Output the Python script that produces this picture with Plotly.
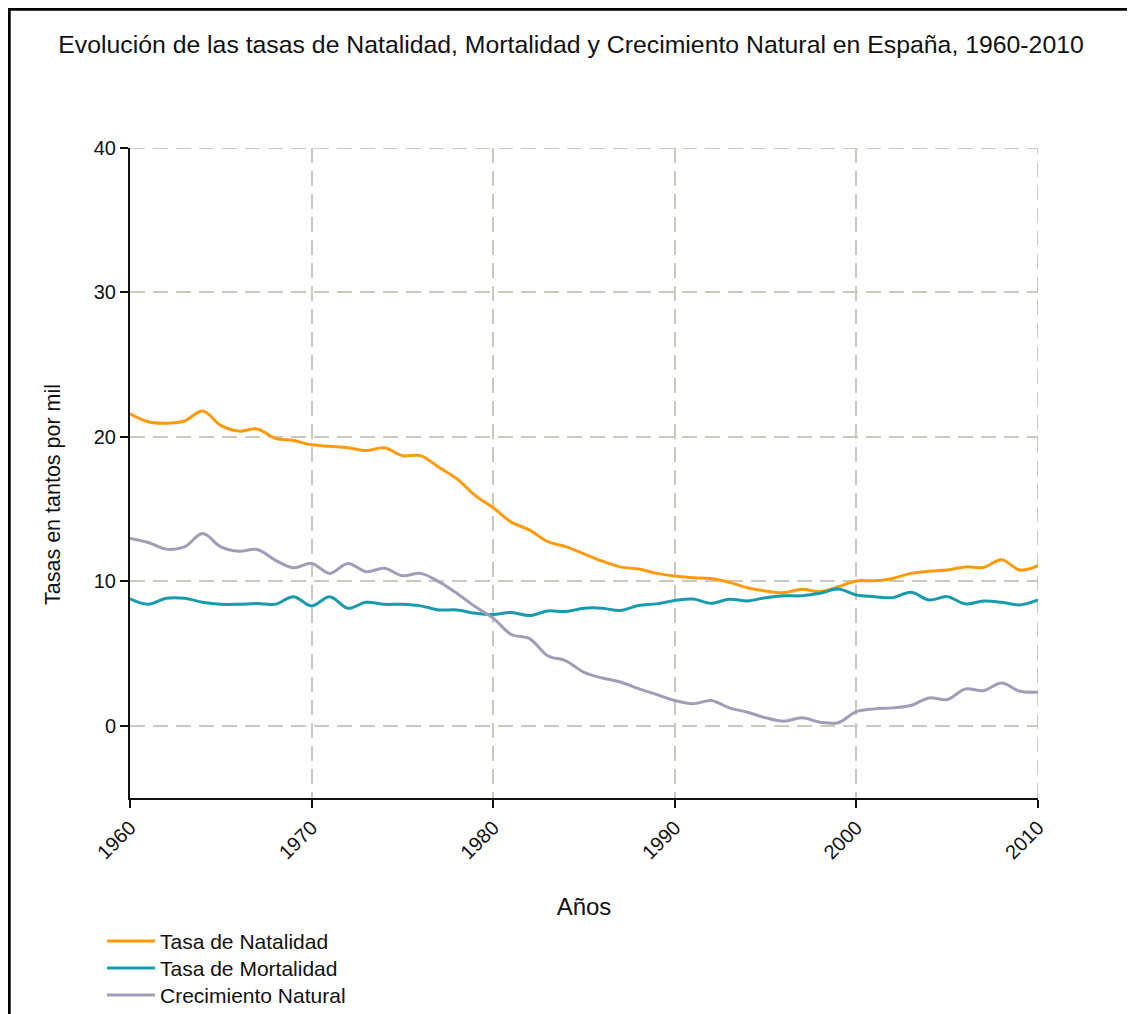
import plotly.graph_objects as go

years = list(range(1960, 2011))

natalidad = [21.6, 21.05, 20.95, 21.1, 21.8, 20.8, 20.4, 20.55, 19.9, 19.75,
             19.45, 19.35, 19.25, 19.05, 19.25, 18.7, 18.7, 17.9, 17.1, 15.95,
             15.1, 14.1, 13.55, 12.75, 12.4, 11.9, 11.4, 11.0, 10.85, 10.55,
             10.37, 10.25, 10.2, 9.93, 9.56, 9.33, 9.22, 9.45, 9.29, 9.63,
             10.03, 10.04, 10.2, 10.55, 10.7, 10.78, 11.0, 10.96, 11.5, 10.78,
             11.08]

mortalidad = [8.78, 8.41, 8.83, 8.83, 8.55, 8.41, 8.41, 8.46, 8.41, 8.94,
              8.3, 8.94, 8.14, 8.55, 8.41, 8.41, 8.3, 8.02, 8.02, 7.79,
              7.7, 7.84, 7.63, 7.95, 7.91, 8.14, 8.14, 7.98, 8.32, 8.44,
              8.67, 8.78, 8.48, 8.76, 8.64, 8.87, 9.0, 9.0, 9.17, 9.47,
              9.06, 8.94, 8.87, 9.24, 8.71, 8.94, 8.44, 8.64, 8.55, 8.37,
              8.71]

crecimiento = [12.97, 12.69, 12.23, 12.39, 13.31, 12.39, 12.09, 12.2, 11.47, 10.94,
               11.24, 10.55, 11.24, 10.67, 10.9, 10.39, 10.55, 9.98, 9.17, 8.25,
               7.45, 6.32, 6.03, 4.85, 4.5, 3.7, 3.31, 3.03, 2.57, 2.16,
               1.75, 1.52, 1.75, 1.24, 0.94, 0.55, 0.32, 0.55, 0.25, 0.21,
               0.98, 1.17, 1.24, 1.4, 1.93, 1.82, 2.55, 2.43, 2.97, 2.39,
               2.34]

series = [
    ("Tasa de Natalidad", natalidad, "#FF9A0A"),
    ("Tasa de Mortalidad", mortalidad, "#1A9BAD"),
    ("Crecimiento Natural", crecimiento, "#A09DB8"),
]

x_ticks = [1960, 1970, 1980, 1990, 2000, 2010]
y_ticks = [0, 10, 20, 30, 40]

FONT = "Liberation Sans, Arial, sans-serif"
TXT = "#111111"
grid_color = "#C9C9BE"
GRID_DASH = "15px,8px"

L, T, PW, PH = 122, 140, 908, 650
W, H = 1135, 1014

legend_ids = ["legend", "legend2", "legend3"]

fig = go.Figure()
for (name, vals, color), lid in zip(series, legend_ids):
    fig.add_trace(go.Scatter(
        x=years, y=vals, name=name, mode="lines", legend=lid,
        line=dict(color=color, width=3, shape="spline", smoothing=1.0),
    ))

legend_common = dict(
    xanchor="left", yanchor="top",
    font=dict(size=21, family=FONT, color=TXT),
    bgcolor="rgba(0,0,0,0)", itemwidth=48,
)
leg_x = (94 - L) / PW
step = 27 / PH
legend_layout = {}
for i, lid in enumerate(legend_ids):
    legend_layout[lid] = dict(legend_common, x=leg_x, y=-0.189 - i * step)

fig.update_layout(
    width=W, height=H,
    margin=dict(l=L, r=W - L - PW, t=T, b=H - T - PH, autoexpand=False),
    paper_bgcolor="white", plot_bgcolor="white",
    font=dict(family=FONT, color=TXT),
    title=dict(
        text="Evolución de las tasas de Natalidad, Mortalidad y Crecimiento Natural en España, 1960-2010",
        x=563 / W, xanchor="center", y=1 - 36 / H, yanchor="middle",
        font=dict(size=24.8, family=FONT, color=TXT),
    ),
    showlegend=True,
    **legend_layout,
)

fig.update_xaxes(
    range=[1960, 2010], tickvals=x_ticks, ticktext=[str(v) for v in x_ticks],
    tickangle=-45, ticks="outside", ticklen=8, tickwidth=2, tickcolor=TXT,
    showline=True, linecolor=TXT, linewidth=2,
    showgrid=True, gridcolor=grid_color, gridwidth=2, griddash=GRID_DASH,
    zeroline=False,
    tickfont=dict(size=20, family=FONT, color=TXT),
    title=dict(text="Años", font=dict(size=24, family=FONT, color=TXT), standoff=36),
)
fig.update_yaxes(
    range=[-5, 40], tickvals=y_ticks, ticktext=[str(v) for v in y_ticks],
    ticks="outside", ticklen=8, tickwidth=2, tickcolor=TXT,
    showline=True, linecolor=TXT, linewidth=2,
    showgrid=True, gridcolor=grid_color, gridwidth=2, griddash=GRID_DASH,
    zeroline=False,
    tickfont=dict(size=20, family=FONT, color=TXT),
)

# Y axis title (placed slightly below the plot centre, as in the original)
fig.add_annotation(
    text="Tasas en tantos por mil", textangle=-90,
    xref="paper", yref="paper", x=(45 - L) / PW, y=(T + PH - 487) / PH,
    xanchor="center", yanchor="middle", showarrow=False,
    font=dict(size=21.5, family=FONT, color=TXT),
)

# Edge gridlines (top at 40 and right at 2010) that plotly omits at range boundaries
fig.add_shape(type="line", xref="paper", yref="y", x0=0, x1=1, y0=y_ticks[-1], y1=y_ticks[-1],
              line=dict(color=grid_color, width=2, dash=GRID_DASH), layer="below")
fig.add_shape(type="line", xref="x", yref="paper", x0=x_ticks[-1], x1=x_ticks[-1], y0=0, y1=1,
              line=dict(color=grid_color, width=2, dash=GRID_DASH), layer="below")

# Frame border (left and top edges of the figure)
x_left = (1.2 - L) / PW
y_top = (T + PH - 1.2) / PH
y_bot = (T + PH - H - 4) / PH
x_right = (W + 4 - L) / PW
fig.add_shape(type="path", xref="paper", yref="paper",
              path=f"M {x_left} {y_bot} L {x_left} {y_top} L {x_right} {y_top}",
              line=dict(color="black", width=3))

fig.write_html("out.html")
